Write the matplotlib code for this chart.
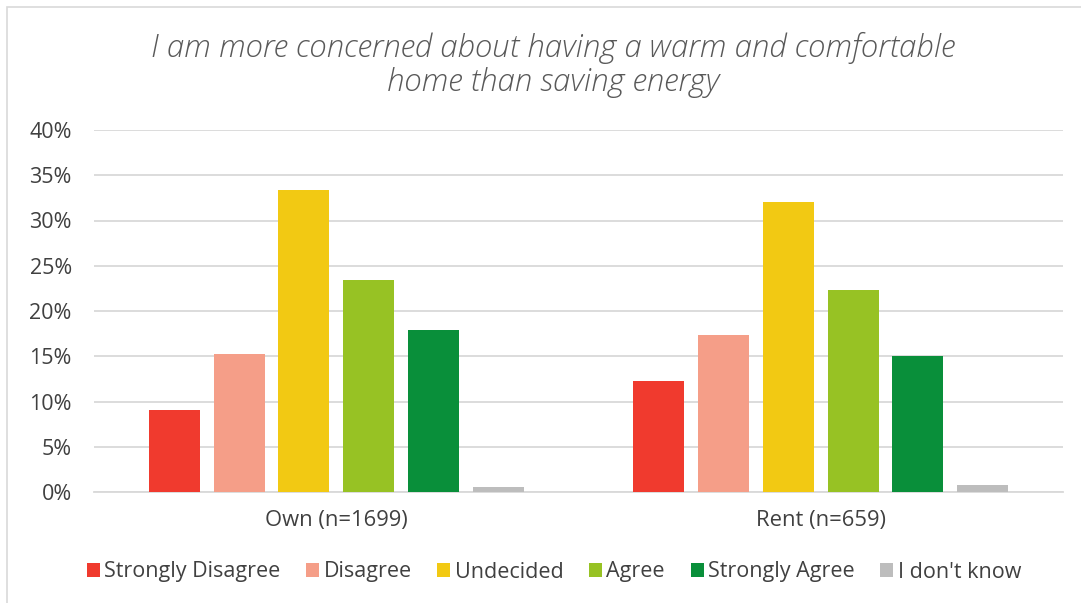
import matplotlib
matplotlib.use("Agg")
import matplotlib.pyplot as plt
import numpy as np
from matplotlib.patches import Rectangle

categories = ["Own (n=1699)", "Rent (n=659)"]
responses = ["Strongly Disagree", "Disagree", "Undecided", "Agree", "Strongly Agree", "I don't know"]
own = [9.1, 15.2, 33.4, 23.4, 17.9, 0.6]
rent = [12.3, 17.3, 32.0, 22.3, 15.0, 0.75]
colors = ["#F03A2E", "#F59E88", "#F2C913", "#97C224", "#098F3A", "#BDBDBD"]
yticks = [0, 5, 10, 15, 20, 25, 30, 35, 40]
title = "I am more concerned about having a warm and comfortable\nhome than saving energy"

plt.rcParams['font.family'] = ['Open Sans', 'DejaVu Sans']

W, H = 1081, 603
fig = plt.figure(figsize=(W/100, H/100), dpi=100)
ax = fig.add_axes([94/W, 1-492/H, (1063-94)/W, (492-130)/H])

values = np.array([own, rent])
x = np.arange(len(categories))
slot = 0.1337
bw = 0.105
for i, (resp, col) in enumerate(zip(responses, colors)):
    ax.bar(x + (i-2.5)*slot, values[:, i], width=bw, color=col, label=resp, zorder=3)

ax.set_xlim(-0.5, 1.5)
ax.set_ylim(0, 40)
ax.set_yticks(yticks)
ax.set_yticklabels([f"{v}%" for v in yticks])
ax.set_xticks(x)
ax.set_xticklabels(categories)
ax.grid(axis='y', color='#D9D9D9', lw=1.3, zorder=0)
ax.tick_params(axis='both', length=0, colors='#404040')
ax.tick_params(axis='y', pad=16, labelsize=15.5)
ax.tick_params(axis='x', pad=13, labelsize=15.8)
for s in ['top', 'right', 'left']:
    ax.spines[s].set_visible(False)
ax.spines['bottom'].set_color('#D9D9D9')
ax.spines['bottom'].set_linewidth(1.3)

fig.text(553/W, 1-65/H, title, ha='center', va='center', fontsize=22.5,
         style='italic', color='#595959', linespacing=1.12, fontweight='light')

fig.legend(loc='center', bbox_to_anchor=(554/W, 1-572/H), ncol=6, frameon=False,
           fontsize=15.5, handlelength=0.6, handleheight=0.6, handletextpad=0.2,
           columnspacing=1.2, labelcolor='#404040')

fig.patches.append(Rectangle((7/W, -0.1), 1.2, 1-7/H+0.1, transform=fig.transFigure,
                             fill=False, edgecolor='#D9D9D9', lw=1.2))

fig.savefig("out.png", dpi=100)
